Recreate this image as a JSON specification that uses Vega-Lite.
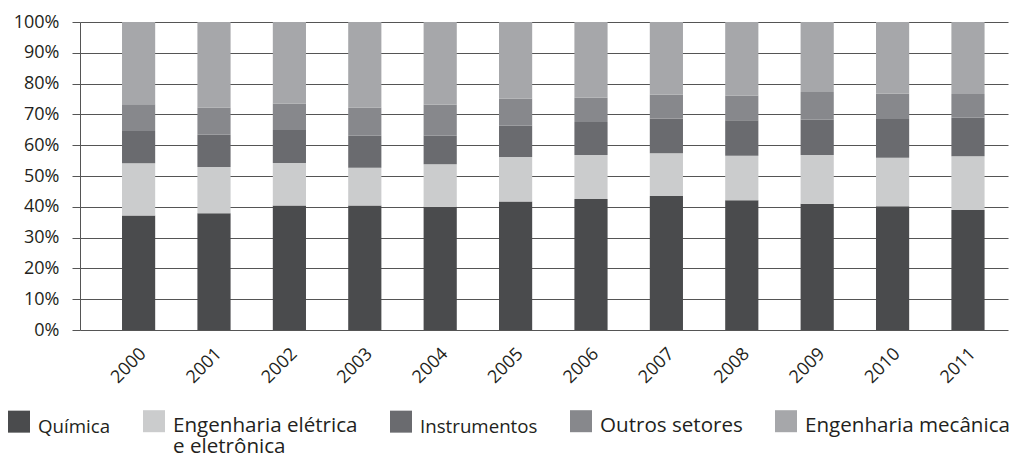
{
  "$schema": "https://vega.github.io/schema/vega-lite/v6.json",
  "autosize": {"type": "none"},
  "padding": {"left": 80, "top": 22, "right": 9, "bottom": 129},
  "width": 928,
  "height": 308,
  "background": "white",
  "config": {
    "font": "Open Sans",
    "view": {"stroke": null},
    "axis": {"labelColor": "#231f20", "labelFont": "Open Sans"}
  },
  "data": {
    "values": [
      {"ano": "2000", "setor": "Química", "k": 1, "share": 37.2},
      {"ano": "2000", "setor": "Engenharia elétrica e eletrônica", "k": 2, "share": 16.9},
      {"ano": "2000", "setor": "Instrumentos", "k": 3, "share": 10.5},
      {"ano": "2000", "setor": "Outros setores", "k": 4, "share": 8.7},
      {"ano": "2000", "setor": "Engenharia mecânica", "k": 5, "share": 26.7},
      {"ano": "2001", "setor": "Química", "k": 1, "share": 37.9},
      {"ano": "2001", "setor": "Engenharia elétrica e eletrônica", "k": 2, "share": 15.0},
      {"ano": "2001", "setor": "Instrumentos", "k": 3, "share": 10.5},
      {"ano": "2001", "setor": "Outros setores", "k": 4, "share": 8.8},
      {"ano": "2001", "setor": "Engenharia mecânica", "k": 5, "share": 27.8},
      {"ano": "2002", "setor": "Química", "k": 1, "share": 40.4},
      {"ano": "2002", "setor": "Engenharia elétrica e eletrônica", "k": 2, "share": 13.8},
      {"ano": "2002", "setor": "Instrumentos", "k": 3, "share": 10.7},
      {"ano": "2002", "setor": "Outros setores", "k": 4, "share": 8.6},
      {"ano": "2002", "setor": "Engenharia mecânica", "k": 5, "share": 26.5},
      {"ano": "2003", "setor": "Química", "k": 1, "share": 40.4},
      {"ano": "2003", "setor": "Engenharia elétrica e eletrônica", "k": 2, "share": 12.3},
      {"ano": "2003", "setor": "Instrumentos", "k": 3, "share": 10.4},
      {"ano": "2003", "setor": "Outros setores", "k": 4, "share": 9.1},
      {"ano": "2003", "setor": "Engenharia mecânica", "k": 5, "share": 27.8},
      {"ano": "2004", "setor": "Química", "k": 1, "share": 40.0},
      {"ano": "2004", "setor": "Engenharia elétrica e eletrônica", "k": 2, "share": 13.8},
      {"ano": "2004", "setor": "Instrumentos", "k": 3, "share": 9.3},
      {"ano": "2004", "setor": "Outros setores", "k": 4, "share": 10.0},
      {"ano": "2004", "setor": "Engenharia mecânica", "k": 5, "share": 26.9},
      {"ano": "2005", "setor": "Química", "k": 1, "share": 41.7},
      {"ano": "2005", "setor": "Engenharia elétrica e eletrônica", "k": 2, "share": 14.5},
      {"ano": "2005", "setor": "Instrumentos", "k": 3, "share": 10.1},
      {"ano": "2005", "setor": "Outros setores", "k": 4, "share": 8.8},
      {"ano": "2005", "setor": "Engenharia mecânica", "k": 5, "share": 24.9},
      {"ano": "2006", "setor": "Química", "k": 1, "share": 42.5},
      {"ano": "2006", "setor": "Engenharia elétrica e eletrônica", "k": 2, "share": 14.3},
      {"ano": "2006", "setor": "Instrumentos", "k": 3, "share": 10.7},
      {"ano": "2006", "setor": "Outros setores", "k": 4, "share": 7.9},
      {"ano": "2006", "setor": "Engenharia mecânica", "k": 5, "share": 24.6},
      {"ano": "2007", "setor": "Química", "k": 1, "share": 43.5},
      {"ano": "2007", "setor": "Engenharia elétrica e eletrônica", "k": 2, "share": 13.9},
      {"ano": "2007", "setor": "Instrumentos", "k": 3, "share": 11.3},
      {"ano": "2007", "setor": "Outros setores", "k": 4, "share": 7.7},
      {"ano": "2007", "setor": "Engenharia mecânica", "k": 5, "share": 23.6},
      {"ano": "2008", "setor": "Química", "k": 1, "share": 42.1},
      {"ano": "2008", "setor": "Engenharia elétrica e eletrônica", "k": 2, "share": 14.5},
      {"ano": "2008", "setor": "Instrumentos", "k": 3, "share": 11.5},
      {"ano": "2008", "setor": "Outros setores", "k": 4, "share": 8.0},
      {"ano": "2008", "setor": "Engenharia mecânica", "k": 5, "share": 23.9},
      {"ano": "2009", "setor": "Química", "k": 1, "share": 41.0},
      {"ano": "2009", "setor": "Engenharia elétrica e eletrônica", "k": 2, "share": 15.8},
      {"ano": "2009", "setor": "Instrumentos", "k": 3, "share": 11.5},
      {"ano": "2009", "setor": "Outros setores", "k": 4, "share": 9.0},
      {"ano": "2009", "setor": "Engenharia mecânica", "k": 5, "share": 22.7},
      {"ano": "2010", "setor": "Química", "k": 1, "share": 40.2},
      {"ano": "2010", "setor": "Engenharia elétrica e eletrônica", "k": 2, "share": 15.7},
      {"ano": "2010", "setor": "Instrumentos", "k": 3, "share": 12.6},
      {"ano": "2010", "setor": "Outros setores", "k": 4, "share": 8.2},
      {"ano": "2010", "setor": "Engenharia mecânica", "k": 5, "share": 23.3},
      {"ano": "2011", "setor": "Química", "k": 1, "share": 39.0},
      {"ano": "2011", "setor": "Engenharia elétrica e eletrônica", "k": 2, "share": 17.4},
      {"ano": "2011", "setor": "Instrumentos", "k": 3, "share": 12.5},
      {"ano": "2011", "setor": "Outros setores", "k": 4, "share": 7.7},
      {"ano": "2011", "setor": "Engenharia mecânica", "k": 5, "share": 23.4}
    ]
  },
  "mark": {"type": "bar", "opacity": 1},
  "encoding": {
    "x": {
      "field": "ano",
      "type": "ordinal",
      "scale": {"paddingInner": 0.56, "paddingOuter": 0.434, "align": 0.642},
      "axis": {
        "title": null,
        "domain": false,
        "ticks": false,
        "grid": false,
        "labelAngle": -45,
        "labelAlign": "right",
        "labelBaseline": "middle",
        "labelFontSize": 18,
        "labelPadding": 21,
        "labelOffset": 5
      }
    },
    "y": {
      "field": "share",
      "type": "quantitative",
      "stack": "zero",
      "scale": {"domain": [0, 100], "nice": false},
      "axis": {
        "title": null,
        "values": [0, 10, 20, 30, 40, 50, 60, 70, 80, 90, 100],
        "labelExpr": "datum.value + '%'",
        "labelFontSize": 18,
        "labelPadding": 13,
        "tickSize": 8,
        "tickColor": "#555555",
        "tickWidth": 1,
        "domain": true,
        "domainColor": "#555555",
        "domainWidth": 1,
        "grid": true,
        "gridColor": "#555555",
        "gridWidth": 1
      }
    },
    "color": {
      "field": "setor",
      "type": "nominal",
      "sort": ["Química", "Engenharia elétrica e eletrônica", "Instrumentos", "Outros setores", "Engenharia mecânica"],
      "scale": {
        "domain": ["Química", "Engenharia elétrica e eletrônica", "Instrumentos", "Outros setores", "Engenharia mecânica"],
        "range": ["#4a4b4d", "#cbcccd", "#6a6b6f", "#87888c", "#a6a7aa"]
      },
      "legend": {
        "title": null,
        "orient": "none",
        "legendX": -72,
        "legendY": 388,
        "direction": "horizontal",
        "columns": 5,
        "columnPadding": 32,
        "padding": 0,
        "symbolType": "square",
        "symbolSize": 484,
        "symbolStrokeWidth": 0,
        "symbolOpacity": 1,
        "labelOffset": 8,
        "labelFontSize": 20.5,
        "labelColor": "#231f20",
        "labelBaseline": "alphabetic",
        "labelLimit": 400,
        "labelExpr": "datum.label == 'Engenharia elétrica e eletrônica' ? ['Engenharia elétrica', 'e eletrônica'] : [datum.label, '']",
        "encode": {
          "labels": {
            "update": {
              "fontSize": [
                {"test": "datum.label == 'Química' || datum.label == 'Instrumentos'", "value": 18.7},
                {"value": 20.6}
              ],
              "dy": {"value": 11},
              "lineHeight": {"value": 21}
            }
          }
        }
      }
    },
    "order": {"field": "k", "type": "quantitative", "sort": "ascending"}
  }
}
